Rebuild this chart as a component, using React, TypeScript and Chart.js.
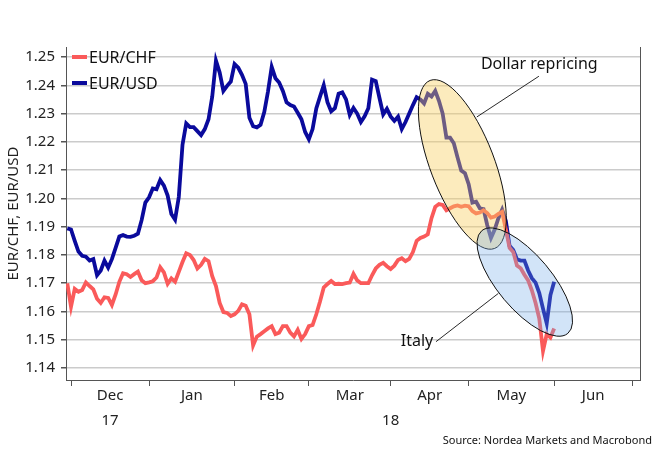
import React, { useEffect, useRef } from "react";
import { Chart, registerables } from "chart.js";

Chart.register(...registerables);

const FONT = "'Noto Sans', 'DejaVu Sans', sans-serif";

// Business-day index: 0 = 1 Dec 2017 (first point is 30 Nov 2017)
const startIndex = -1;

const eurChf = [
  1.17, 1.1617, 1.168, 1.167, 1.1676, 1.1703, 1.169, 1.1678, 1.1645, 1.163,
  1.165, 1.1648, 1.1623, 1.166, 1.1705, 1.1735, 1.1732, 1.1722, 1.1732, 1.1741,
  1.171, 1.17, 1.1703, 1.1707, 1.172, 1.1756, 1.1738, 1.1698, 1.1717, 1.1705,
  1.174, 1.1775, 1.1806, 1.18, 1.1782, 1.1752, 1.1765, 1.1786, 1.1778, 1.1725,
  1.169, 1.163, 1.1598, 1.1595, 1.1584, 1.159, 1.1602, 1.1625, 1.162, 1.159,
  1.148, 1.1511, 1.152, 1.153, 1.154, 1.1548, 1.152, 1.1525, 1.1548, 1.1548,
  1.1525, 1.1512, 1.1535, 1.1503, 1.152, 1.1548, 1.1552, 1.159, 1.1635, 1.1685,
  1.1697, 1.1708, 1.1697, 1.1698, 1.1697, 1.17, 1.1702, 1.1733, 1.171, 1.17,
  1.17, 1.17, 1.1728, 1.1752, 1.1765, 1.1772, 1.176, 1.175, 1.1762, 1.1782,
  1.1788, 1.1778, 1.1786, 1.181, 1.185, 1.186, 1.1865, 1.1873, 1.193, 1.197,
  1.198, 1.1977, 1.1958, 1.1965, 1.1972, 1.1975, 1.197, 1.1974, 1.1972, 1.1955,
  1.1947, 1.195, 1.1958, 1.1948, 1.1932, 1.1936, 1.1945, 1.1952, 1.189, 1.1825,
  1.181, 1.1762, 1.1753, 1.173, 1.171, 1.1675, 1.163, 1.1575, 1.146, 1.152,
  1.1508, 1.154,
];

const eurUsd = [
  1.1894, 1.189, 1.185, 1.1812, 1.1797, 1.1794, 1.178, 1.1785, 1.1728, 1.1745,
  1.178, 1.1755, 1.1785, 1.1825, 1.1865, 1.187, 1.1865, 1.1864, 1.1868, 1.1875,
  1.1923, 1.1985, 1.2004, 1.2035, 1.2032, 1.2065, 1.2045, 1.201, 1.1945, 1.1925,
  1.2005, 1.219, 1.2265, 1.2252, 1.2252, 1.2238, 1.2224, 1.2245, 1.228, 1.236,
  1.2487, 1.2445, 1.238, 1.2398, 1.2413, 1.2475, 1.2462, 1.2437, 1.2405, 1.2285,
  1.2255, 1.2251, 1.226, 1.2305, 1.2378, 1.2465, 1.2425, 1.241, 1.238, 1.234,
  1.233, 1.2325, 1.2303, 1.228, 1.2235, 1.2209, 1.2245, 1.2318, 1.236, 1.24,
  1.234, 1.2308, 1.2319, 1.237, 1.2375, 1.235, 1.2295, 1.232, 1.23, 1.227,
  1.229, 1.2319, 1.242, 1.2415, 1.2355, 1.2297, 1.2317, 1.229, 1.2274, 1.2289,
  1.2245, 1.227, 1.23, 1.233, 1.2358, 1.235, 1.2336, 1.237, 1.236, 1.238,
  1.2345, 1.23, 1.2215, 1.2215, 1.2195, 1.2145, 1.2098, 1.2089, 1.205, 1.1985,
  1.1988, 1.1965, 1.1962, 1.1905, 1.186, 1.189, 1.193, 1.196, 1.192, 1.1832,
  1.1817, 1.1785, 1.178, 1.178, 1.1745, 1.1718, 1.1702, 1.1665, 1.161, 1.1558,
  1.1658, 1.1705,
];

const seriesLabels = ["EUR/CHF", "EUR/USD"];
const seriesColors = ["#fa5a5a", "#0a0a9c"];

// Month boundaries (business-day index of the 1st of each month)
const monthBoundaries = [0, 21, 44, 64, 86, 107, 130, 151];
const monthCenters = [10.5, 32.5, 54, 75, 96.5, 118.5, 140.5];
const monthLabels = ["Dec", "Jan", "Feb", "Mar", "Apr", "May", "Jun"];
const yearCenters = [10.5, 86];
const yearLabels = ["17", "18"];
const yTicks = [1.14, 1.15, 1.16, 1.17, 1.18, 1.19, 1.2, 1.21, 1.22, 1.23, 1.24, 1.25];

const X_MIN = -1.35;
const X_MAX = 153.1;
const Y_MIN = 1.13576;
const Y_MAX = 1.25354;

// Annotations (anchored in data space)
const ellipses = [
  { cx: 105.3, cy: 1.2120, a: 90, b: 32, angle: 69, fill: "rgba(249,207,98,0.42)" },
  { cx: 122.1, cy: 1.1704, a: 67, b: 27, angle: 50, fill: "rgba(118,172,235,0.33)" },
];
const notes = [
  { text: "Dollar repricing", tx: 126, ty: 1.2475, x1: 125.9, y1: 1.2432, x2: 109.2, y2: 1.2288 },
  { text: "Italy", tx: 93.1, ty: 1.1495, x1: 98.2, y1: 1.1493, x2: 115.0, y2: 1.1664 },
];
const sourceText = "Source: Nordea Markets and Macrobond";

const annotationPlugin = {
  id: "annotations",
  afterDatasetsDraw(chart: any) {
    const { ctx, scales, chartArea } = chart;
    const xs = scales.x;
    const ys = scales.y;
    ctx.save();
    ctx.beginPath();
    ctx.rect(chartArea.left, chartArea.top, chartArea.right - chartArea.left, chartArea.bottom - chartArea.top);
    ctx.clip();
    for (const e of ellipses) {
      const cx = xs.getPixelForValue(e.cx);
      const cy = ys.getPixelForValue(e.cy);
      ctx.beginPath();
      ctx.ellipse(cx, cy, e.a, e.b, (e.angle * Math.PI) / 180, 0, Math.PI * 2);
      ctx.fillStyle = e.fill;
      ctx.fill();
      ctx.lineWidth = 1;
      ctx.strokeStyle = "#111";
      ctx.stroke();
    }
    for (const n of notes) {
      ctx.beginPath();
      ctx.moveTo(xs.getPixelForValue(n.x1), ys.getPixelForValue(n.y1));
      ctx.lineTo(xs.getPixelForValue(n.x2), ys.getPixelForValue(n.y2));
      ctx.lineWidth = 0.9;
      ctx.strokeStyle = "#111";
      ctx.stroke();
      ctx.font = `16px ${FONT}`;
      ctx.fillStyle = "#111";
      ctx.textAlign = "center";
      ctx.textBaseline = "middle";
      ctx.fillText(n.text, xs.getPixelForValue(n.tx), ys.getPixelForValue(n.ty));
    }
    ctx.restore();
  },
  afterDraw(chart: any) {
    const { ctx, chartArea } = chart;
    ctx.save();
    // legend
    chart.data.datasets.forEach((ds: any, i: number) => {
      const y = chartArea.top + 10 + i * 26;
      const x = chartArea.left + 6;
      ctx.beginPath();
      ctx.moveTo(x, y);
      ctx.lineTo(x + 15, y);
      ctx.lineWidth = 4;
      ctx.strokeStyle = ds.borderColor;
      ctx.stroke();
      ctx.font = `16px ${FONT}`;
      ctx.fillStyle = "#111";
      ctx.textAlign = "left";
      ctx.textBaseline = "middle";
      ctx.fillText(ds.label, x + 17, y + 1);
    });
    // source
    ctx.font = `11px ${FONT}`;
    ctx.fillStyle = "#111";
    ctx.textAlign = "right";
    ctx.textBaseline = "middle";
    ctx.fillText(sourceText, chart.width - 4, chart.height - 10);
    ctx.restore();
  },
};

export default function App() {
  const canvasRef = useRef<HTMLCanvasElement | null>(null);

  useEffect(() => {
    if (!canvasRef.current) return;
    const chf = eurChf.map((v, k) => ({ x: startIndex + k, y: v }));
    const usd = eurUsd.map((v, k) => ({ x: startIndex + k, y: v }));
    const chart = new Chart(canvasRef.current, {
      type: "line",
      data: {
        datasets: [
          {
            label: seriesLabels[0],
            data: chf,
            borderColor: seriesColors[0],
            backgroundColor: seriesColors[0],
            borderWidth: 3.8,
            pointRadius: 0,
            tension: 0,
            xAxisID: "x",
            yAxisID: "y",
          },
          {
            label: seriesLabels[1],
            data: usd,
            borderColor: seriesColors[1],
            backgroundColor: seriesColors[1],
            borderWidth: 3.8,
            pointRadius: 0,
            tension: 0,
            xAxisID: "x",
            yAxisID: "y",
          },
        ],
      },
      options: {
        animation: false,
        responsive: false,
        maintainAspectRatio: false,
        layout: { padding: { top: 47, right: 16, bottom: 20, left: 0 } },
        plugins: { legend: { display: false }, tooltip: { enabled: false } },
        scales: {
          x: {
            type: "linear",
            position: "bottom",
            weight: 0,
            min: X_MIN,
            max: X_MAX,
            afterBuildTicks: (s: any) => {
              s.ticks = monthBoundaries.map((v) => ({ value: v }));
            },
            ticks: { display: false },
            grid: { display: true, drawOnChartArea: false, drawTicks: true, tickLength: 6, tickColor: "#555", color: "#555", lineWidth: 1 },
            border: { display: true, color: "#555", width: 1 },
            afterFit: (s: any) => {
              s.height = 7;
            },
          },
          xMonth: {
            type: "linear",
            position: "bottom",
            weight: 1,
            min: X_MIN,
            max: X_MAX,
            afterBuildTicks: (s: any) => {
              s.ticks = monthCenters.map((v) => ({ value: v }));
            },
            ticks: {
              autoSkip: false,
              maxRotation: 0,
              padding: 0,
              color: "#222",
              font: { family: FONT, size: 15 },
              callback: (_v: any, i: number) => monthLabels[i],
            },
            grid: { display: false, drawTicks: false },
            border: { display: false },
            afterFit: (s: any) => {
              s.height = 22;
            },
          },
          xYear: {
            type: "linear",
            position: "bottom",
            weight: 2,
            min: X_MIN,
            max: X_MAX,
            afterBuildTicks: (s: any) => {
              s.ticks = yearCenters.map((v) => ({ value: v }));
            },
            ticks: {
              autoSkip: false,
              maxRotation: 0,
              padding: 3,
              color: "#222",
              font: { family: FONT, size: 15 },
              callback: (_v: any, i: number) => yearLabels[i],
            },
            grid: { display: false, drawTicks: false },
            border: { display: false },
            afterFit: (s: any) => {
              s.height = 22;
            },
          },
          y: {
            type: "linear",
            position: "left",
            min: Y_MIN,
            max: Y_MAX,
            afterBuildTicks: (s: any) => {
              s.ticks = yTicks.map((v) => ({ value: v }));
            },
            ticks: {
              padding: 6,
              color: "#222",
              font: { family: FONT, size: 15 },
              callback: (v: any) => Number(v).toFixed(2),
            },
            grid: { color: "#cbcbcb", lineWidth: 1.5, drawTicks: true, tickLength: 5, tickColor: "#555" },
            border: { display: true, color: "#555", width: 1 },
            title: {
              display: true,
              text: "EUR/CHF, EUR/USD",
              color: "#222",
              font: { family: FONT, size: 15 },
              padding: { top: 5, bottom: 0 },
            },
            afterFit: (s: any) => {
              s.width = 66;
            },
          },
          yRight: {
            type: "linear",
            position: "right",
            min: Y_MIN,
            max: Y_MAX,
            ticks: { display: false },
            grid: { display: false, drawTicks: false },
            border: { display: true, color: "#555", width: 1 },
            afterFit: (s: any) => {
              s.width = 0;
            },
          },
        },
      } as any,
      plugins: [annotationPlugin],
    });
    return () => chart.destroy();
  }, []);

  return (
    <div style={{ position: "fixed", left: 0, top: 0, width: 656, height: 451, background: "#fff" }}>
      <canvas ref={canvasRef} width={656} height={451} style={{ width: 656, height: 451, display: "block" }} />
    </div>
  );
}
